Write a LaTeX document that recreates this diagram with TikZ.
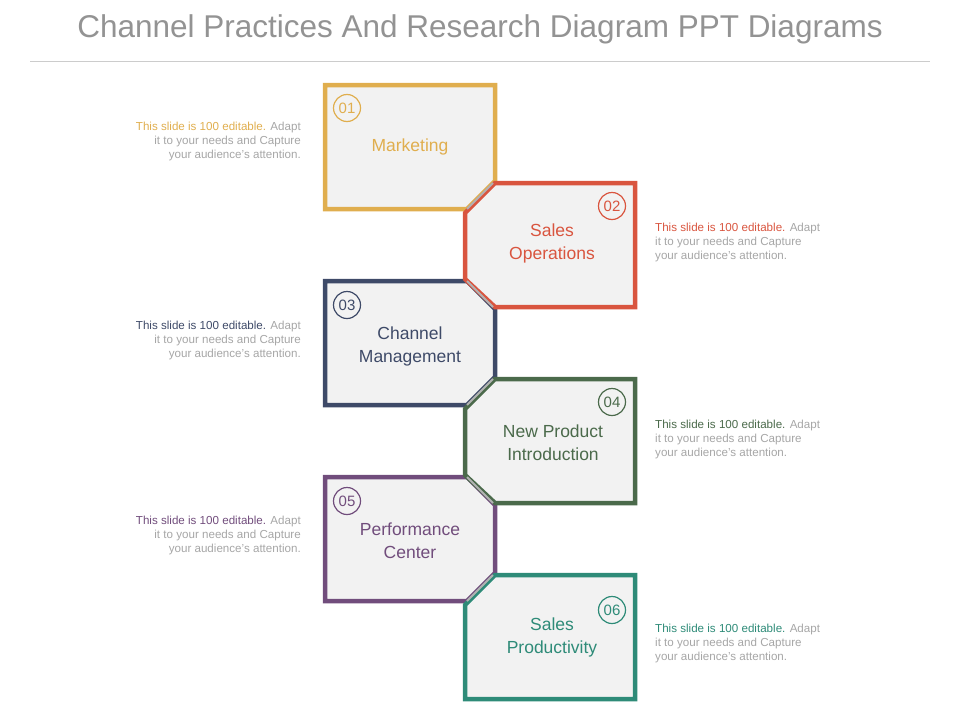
\documentclass[tikz,border=0pt]{standalone}
\usepackage{fontspec}
\setmainfont{Liberation Sans}
\definecolor{cgold}{HTML}{E0AE4E}
\definecolor{cred}{HTML}{D9553F}
\definecolor{cnavy}{HTML}{3E4A68}
\definecolor{cgreen}{HTML}{4B6A4B}
\definecolor{cpurple}{HTML}{714D7C}
\definecolor{cteal}{HTML}{2E8B78}
\definecolor{cfill}{HTML}{F2F2F2}
\definecolor{ctext}{HTML}{A6A6A6}
\tikzset{
  boxline/.style={line width=4.5pt, fill=cfill, line join=miter},
  numcirc/.style={draw, circle, line width=1.2pt, fill=cfill, minimum size=27pt, inner sep=0pt, font=\fontsize{15}{15}\selectfont},
  boxlabel/.style={align=center, font=\fontsize{17.5}{23}\selectfont},
  sidetext/.style={font=\fontsize{11.6}{14}\selectfont, text=ctext, inner sep=0pt},
}
\begin{document}
\begin{tikzpicture}[x=1pt,y=-1pt]
\useasboundingbox (0,0) rectangle (960,720);
\node[text=gray!85, font=\fontsize{31.5}{33}\selectfont] (title) at (480,29) {Channel Practices And Research Diagram PPT Diagrams};
\draw[gray!40] (30,61) -- (930,61);

% left boxes
\foreach \i/\c in {0/cgold,2/cnavy,4/cpurple} {
  \pgfmathsetmacro{\t}{85+98*\i}
  \ifnum\i=0
    \draw[boxline, draw=\c] (325,\t) -- (495,\t) -- (495,\t+96) -- (467,\t+124) -- (325,\t+124) -- cycle;
  \else
    \draw[boxline, draw=\c] (325,\t) -- (467,\t) -- (495,\t+28) -- (495,\t+96) -- (467,\t+124) -- (325,\t+124) -- cycle;
  \fi
}
% right boxes
\foreach \i/\c in {1/cred,3/cgreen,5/cteal} {
  \pgfmathsetmacro{\t}{85+98*\i}
  \ifnum\i=5
    \draw[boxline, draw=\c] (495,\t) -- (635,\t) -- (635,\t+124) -- (465,\t+124) -- (465,\t+30) -- cycle;
  \else
    \draw[boxline, draw=\c] (495,\t) -- (635,\t) -- (635,\t+124) -- (495,\t+124) -- (465,\t+96) -- (465,\t+30) -- cycle;
  \fi
}
% grey joints
\foreach \i in {0,...,4} {
  \pgfmathsetmacro{\t}{85+98*\i}
  \ifodd\i
    \draw[gray!60, line width=2pt] (467,\t+98) -- (493,\t+124);
  \else
    \draw[gray!60, line width=2pt] (493,\t+98) -- (467,\t+124);
  \fi
}

\node[numcirc, draw=cgold, text=cgold] (n1) at (347,108) {01};
\node[numcirc, draw=cred, text=cred] (n2) at (612,206) {02};
\node[numcirc, draw=cnavy, text=cnavy] (n3) at (347,305) {03};
\node[numcirc, draw=cgreen, text=cgreen] (n4) at (612,402) {04};
\node[numcirc, draw=cpurple, text=cpurple] (n5) at (347,501) {05};
\node[numcirc, draw=cteal, text=cteal] (n6) at (612,610) {06};

\node[boxlabel, text=cgold] (l1) at (410,147) {Marketing};
\node[boxlabel, text=cred] (l2) at (552,243) {Sales\\Operations};
\node[boxlabel, text=cnavy] (l3) at (410,346) {Channel\\Management};
\node[boxlabel, text=cgreen] (l4) at (553,443) {New Product\\Introduction};
\node[boxlabel, text=cpurple] (l5) at (410,541) {Performance\\Center};
\node[boxlabel, text=cteal] (l6) at (552,637) {Sales\\Productivity};

\node[sidetext, align=right, anchor=north east] (s1) at (301,122) {\textcolor{cgold}{This slide is 100 editable.} Adapt\\it to your needs and Capture\\your audience's attention.};
\node[sidetext, align=left, anchor=north west] (s2) at (655,223) {\textcolor{cred}{This slide is 100 editable.} Adapt\\it to your needs and Capture\\your audience's attention.};
\node[sidetext, align=right, anchor=north east] (s3) at (301,321) {\textcolor{cnavy}{This slide is 100 editable.} Adapt\\it to your needs and Capture\\your audience's attention.};
\node[sidetext, align=left, anchor=north west] (s4) at (655,420) {\textcolor{cgreen}{This slide is 100 editable.} Adapt\\it to your needs and Capture\\your audience's attention.};
\node[sidetext, align=right, anchor=north east] (s5) at (301,516) {\textcolor{cpurple}{This slide is 100 editable.} Adapt\\it to your needs and Capture\\your audience's attention.};
\node[sidetext, align=left, anchor=north west] (s6) at (655,624) {\textcolor{cteal}{This slide is 100 editable.} Adapt\\it to your needs and Capture\\your audience's attention.};
\end{tikzpicture}
\end{document}
